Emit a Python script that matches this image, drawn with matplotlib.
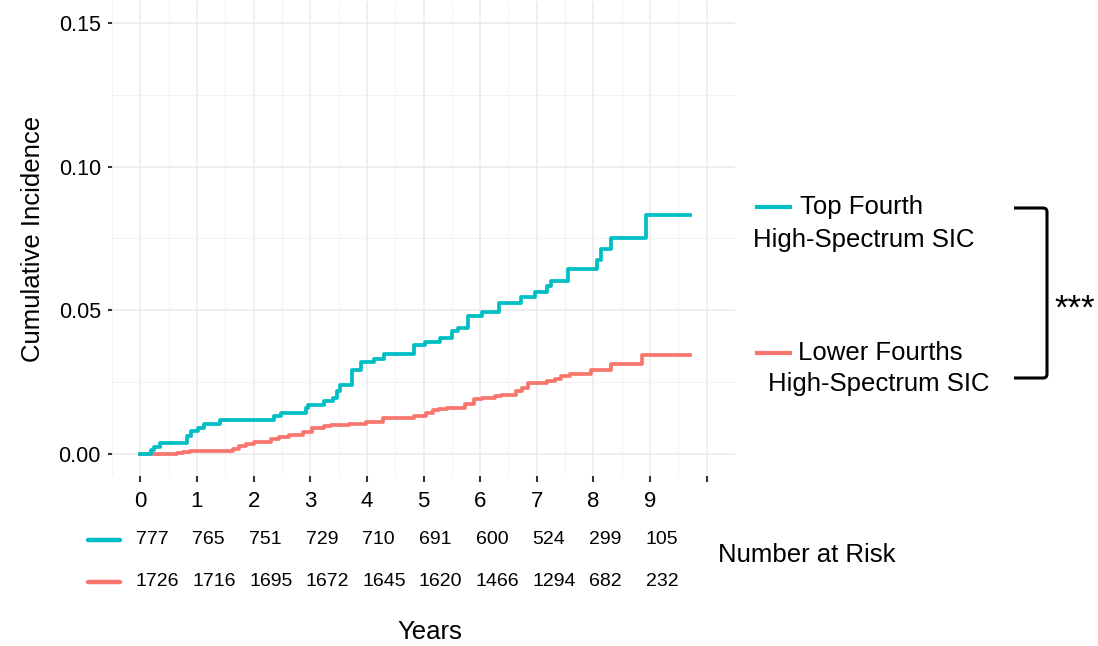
import numpy as np
import matplotlib
matplotlib.use("Agg")
from matplotlib import pyplot as plt
from matplotlib.path import Path
from matplotlib.patches import PathPatch

# Données
teal_t = [0, 0.18, 0.25, 0.35, 0.83, 0.90, 1.01, 1.12, 1.40, 2.36, 2.48, 2.92, 2.96,
          3.25, 3.40, 3.48, 3.53, 3.73, 3.90, 4.13, 4.31, 4.84, 5.03, 5.29, 5.51,
          5.61, 5.78, 6.04, 6.33, 6.73, 6.96, 7.18, 7.25, 7.56, 8.06, 8.13, 8.31,
          8.92, 9.71]
teal_y = [0, 0.0015, 0.0027, 0.0041, 0.0064, 0.0081, 0.0093, 0.0106, 0.0119, 0.0133,
          0.0145, 0.0162, 0.0172, 0.0185, 0.0197, 0.0220, 0.0240, 0.0293, 0.0321,
          0.0330, 0.0350, 0.0380, 0.0391, 0.0405, 0.0428, 0.0440, 0.0480, 0.0494,
          0.0527, 0.0547, 0.0564, 0.0584, 0.0602, 0.0645, 0.0677, 0.0712, 0.0752,
          0.0833, 0.0833]

red_t = [0, 0.65, 0.76, 0.87, 1.64, 1.75, 1.86, 2.00, 2.30, 2.44, 2.63, 2.88, 3.03,
         3.25, 3.36, 3.69, 3.98, 4.28, 4.83, 5.05, 5.16, 5.27, 5.41, 5.74, 5.89,
         6.04, 6.26, 6.37, 6.63, 6.74, 6.85, 7.18, 7.32, 7.43, 7.58, 7.95, 8.31,
         8.86, 9.71]
red_y = [0, 0.0006, 0.0009, 0.0012, 0.0020, 0.0029, 0.0037, 0.0043, 0.0052, 0.0060,
         0.0069, 0.0079, 0.0093, 0.0098, 0.0103, 0.0106, 0.0112, 0.0127, 0.0133,
         0.0145, 0.0153, 0.0159, 0.0162, 0.0174, 0.0191, 0.0195, 0.0202, 0.0208,
         0.0220, 0.0231, 0.0247, 0.0255, 0.0263, 0.0272, 0.0281, 0.0293, 0.0313,
         0.0345, 0.0345]

risk_years = [0, 1, 2, 3, 4, 5, 6, 7, 8, 9]
risk_top = [777, 765, 751, 729, 710, 691, 600, 524, 299, 105]
risk_low = [1726, 1716, 1695, 1672, 1645, 1620, 1466, 1294, 682, 232]

teal = "#00BFC4"
red = "#F8766D"
plt.rcParams['font.family'] = ['Liberation Sans', 'DejaVu Sans']
narrow = ['Liberation Sans Narrow', 'Liberation Sans']

W, H = 1098, 646
fig = plt.figure(figsize=(W / 100, H / 100), dpi=100)

# Panneau principal
ax = fig.add_axes([112 / W, 1 - 476 / H, (735 - 112) / W, 475 / H])
ax.step(red_t, red_y, where='post', color=red, lw=2.7, zorder=3)
ax.step(teal_t, teal_y, where='post', color=teal, lw=2.7, zorder=4)
ax.set_xlim(-0.5, 10.5)
ax.set_ylim(-0.0075, 0.1575)
ax.set_xticks(range(11))
ax.set_xticklabels([str(i) for i in range(10)] + [""], fontsize=16)
ax.set_xticks(np.arange(-0.5, 10.6, 0.5), minor=True)
ax.set_yticks([0, 0.05, 0.10, 0.15])
ax.set_yticklabels(["0.00", "0.05", "0.10", "0.15"], fontsize=15.5)
ax.set_yticks([0.025, 0.075, 0.125], minor=True)
ax.grid(which='major', color='#EBEBEB', lw=1.1)
ax.grid(which='minor', color='#F2F2F2', lw=0.7)
ax.set_axisbelow(True)
for s in ax.spines.values():
    s.set_visible(False)
ax.tick_params(axis='both', which='minor', length=0)
ax.tick_params(axis='y', which='major', length=3, width=1.5, color='#333333', pad=5)
ax.tick_params(axis='x', which='major', length=4, width=1.5, color='#333333', pad=7)
ax.set_ylabel("Cumulative Incidence", fontsize=18.5, labelpad=10)

# Tableau des effectifs
for x, a, b in zip(risk_years, risk_top, risk_low):
    ax.text(x - 0.08, -0.0295, str(a), fontsize=14, family=narrow,
            ha='left', va='center', clip_on=False)
    ax.text(x - 0.08, -0.0440, str(b), fontsize=14, family=narrow,
            ha='left', va='center', clip_on=False)

# Calque en pixels pour la légende et les annotations
ov = fig.add_axes([0, 0, 1, 1])
ov.set_xlim(0, W)
ov.set_ylim(H, 0)
ov.axis('off')
ov.patch.set_alpha(0)

ov.plot([88, 120], [540, 540], color=teal, lw=3.2, solid_capstyle='round')
ov.plot([88, 120], [582, 582], color=red, lw=3.2, solid_capstyle='round')
ov.text(430, 632, "Years", fontsize=18.5, ha='center', va='center')
ov.text(718, 555, "Number at Risk", fontsize=18.5, ha='left', va='center')

ov.plot([757, 790], [207, 207], color=teal, lw=3)
ov.text(800, 207, "Top Fourth", fontsize=18.5, ha='left', va='center')
ov.text(753, 240, "High-Spectrum SIC", fontsize=18.5, ha='left', va='center')
ov.plot([757, 790], [353, 353], color=red, lw=3)
ov.text(798, 353, "Lower Fourths", fontsize=18.5, ha='left', va='center')
ov.text(768, 384, "High-Spectrum SIC", fontsize=18.5, ha='left', va='center')

verts = [(1014, 208), (1043, 208), (1047, 208), (1047, 212), (1047, 374),
         (1047, 378), (1043, 378), (1014, 378)]
codes = [Path.MOVETO, Path.LINETO, Path.CURVE3, Path.CURVE3, Path.LINETO,
         Path.CURVE3, Path.CURVE3, Path.LINETO]
ov.add_patch(PathPatch(Path(verts, codes), fill=False, lw=2.2, color='black'))
ov.text(1075, 309, "***", fontsize=25, ha='center', va='center')

fig.savefig("out.png", dpi=100)
